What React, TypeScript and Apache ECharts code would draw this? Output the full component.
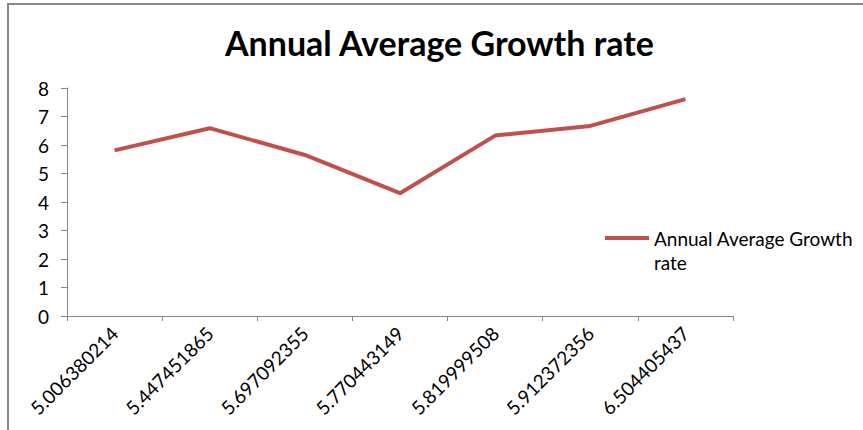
import React, { useEffect, useRef } from "react";
import * as echarts from "echarts";

const categories = [
  "5.006380214",
  "5.447451865",
  "5.697092355",
  "5.770443149",
  "5.819999508",
  "5.912372356",
  "6.504405437",
];
const growthRate = [5.81, 6.59, 5.65, 4.31, 6.33, 6.67, 7.61];
const seriesName = "Annual Average Growth rate";
const titleText = "Annual Average Growth rate";

export default function App() {
  const ref = useRef<HTMLDivElement>(null);
  useEffect(() => {
    if (!ref.current) return;
    const chart = echarts.init(ref.current, null, { renderer: "svg" });
    const font = "Lato";
    chart.setOption({
      animation: false,
      backgroundColor: "#ffffff",
      title: {
        text: titleText,
        left: 220,
        top: 20,
        textStyle: { fontFamily: font, fontWeight: "bold", fontSize: 34, color: "#000000" },
      },
      graphic: [
        {
          type: "rect",
          shape: { x: 8, y: 4, width: 1000, height: 600 },
          style: { fill: "none", stroke: "#868686", lineWidth: 2 },
          silent: true,
        },
      ],
      legend: {
        orient: "vertical",
        left: 605,
        top: 202,
        padding: 0,
        icon: "rect",
        itemWidth: 44,
        itemHeight: 4,
        itemGap: 0,
        formatter: () => "\nAnnual Average Growth\nrate",
        textStyle: { fontFamily: font, fontSize: 19, color: "#000000", lineHeight: 24 },
        data: [{ name: seriesName, itemStyle: { color: "#C0504D" } }],
      },
      grid: { left: 67, right: 130, top: 88, bottom: 114, containLabel: false },
      xAxis: {
        type: "category",
        data: categories,
        boundaryGap: true,
        axisLine: { lineStyle: { color: "#868686", width: 1 } },
        axisTick: { show: true, length: 5, lineStyle: { color: "#868686" } },
        axisLabel: { rotate: 45, margin: 14, fontFamily: font, fontSize: 19, color: "#000000", interval: 0 },
        splitLine: { show: false },
      },
      yAxis: {
        type: "value",
        min: 0,
        max: 8,
        interval: 1,
        axisLine: { show: true, lineStyle: { color: "#868686", width: 1 } },
        axisTick: { show: true, length: 6, lineStyle: { color: "#868686" } },
        axisLabel: { margin: 18, fontFamily: font, fontSize: 19, color: "#000000" },
        splitLine: { show: false },
      },
      series: [
        {
          name: seriesName,
          type: "line",
          data: growthRate,
          symbol: "none",
          lineStyle: { color: "#C0504D", width: 4 },
          itemStyle: { color: "#C0504D" },
        },
      ],
    });
    return () => chart.dispose();
  }, []);
  return (
    <div
      ref={ref}
      style={{ position: "fixed", left: 0, top: 0, width: 863, height: 430 }}
    />
  );
}
